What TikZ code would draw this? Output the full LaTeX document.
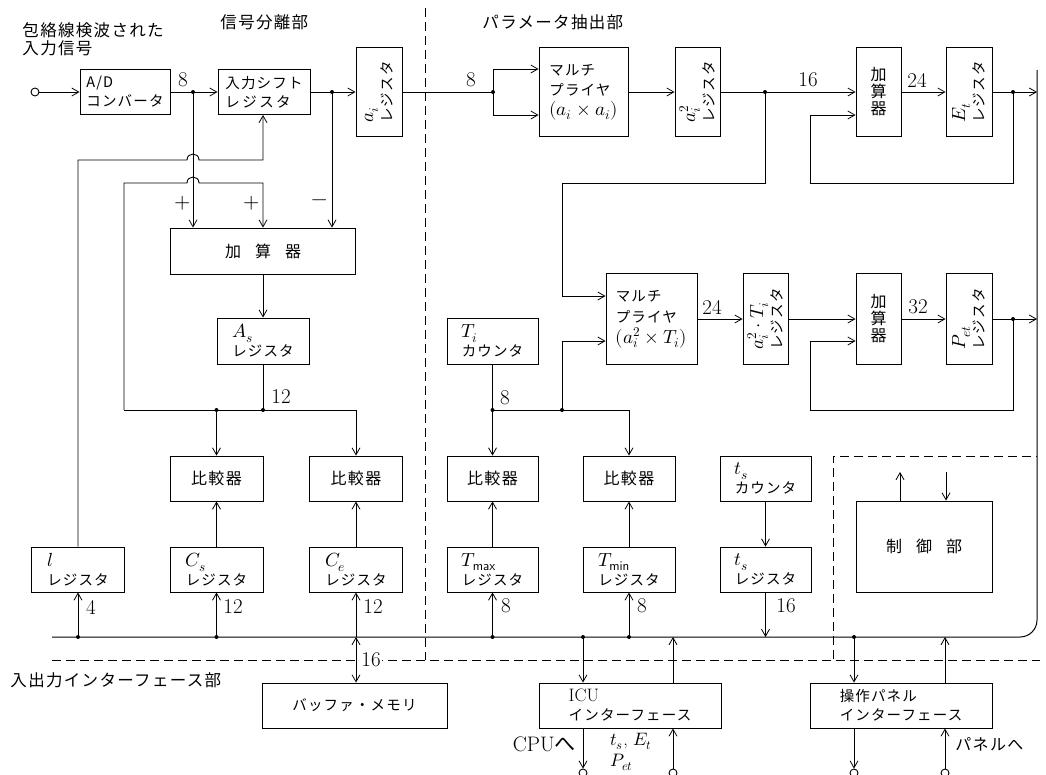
\documentclass[tikz,border=0pt]{standalone}
\usepackage{fontspec}
\usepackage{unicode-math}
\setmathfont{Latin Modern Math}
\newfontfamily\jp[LetterSpace=8]{Noto Sans CJK JP}
\usetikzlibrary{arrows.meta}
\newcommand\jpf{\jp\fontsize{14.5}{19}\selectfont}
\newcommand\jpadd{\jp\fontsize{16}{17}\selectfont}
\newcommand\jpbig{\jp\fontsize{16}{18}\selectfont}
\newcommand\jpcmp{\jp\fontsize{16}{18}\selectfont}
\newcommand\jptitle{\jp\fontsize{16.5}{18}\selectfont}
\newcommand\numf{\fontsize{21}{22}\selectfont}
\newcommand\mth[1]{{\fontsize{19}{19}\selectfont$#1$}}
\begin{document}
\begin{tikzpicture}[x=1pt,y=-1pt,line width=0.9pt,
  >={Straight Barb[length=7pt,width=8pt,line width=0.8pt]},
  box/.style={draw,line width=0.9pt,inner sep=0pt,align=left,font=\jpf},
  wh/.style 2 args={minimum width=#1pt,minimum height=#2pt},
  vtext/.style={rotate=90,align=left,inner sep=0pt,font=\jpf},
  num/.style={font=\numf,inner sep=0pt},
  jdot/.style={circle,fill,inner sep=0pt,minimum size=4pt},
  term/.style={circle,draw,fill=white,inner sep=0pt,minimum size=8pt},
  dsh/.style={dash pattern=on 9pt off 5pt,line width=0.9pt},
  title/.style={font=\jptitle,inner sep=0pt,align=left,anchor=west}]
\useasboundingbox (0,0) rectangle (1046,774);

% titles
\node[title] (tin) at (22,39) {包絡線検波された\\入力信号};
\node[title] (tsep) at (220,22) {信号分離部};
\node[title] (tpar) at (482,22) {パラメータ抽出部};
\node[title] (tio) at (10,680) {入出力インターフェース部};

% row 1
\node[term] (in) at (35,92) {};
\node[box,wh={90}{45}] (ad) at (125,92) {A/D\\コンバータ};
\node[box,wh={92}{45}] (isr) at (264,92) {入力シフト\\レ\,ジ\,ス\,タ};
\node[box,wh={46}{89}] (ai) at (379,92) {};
\node[vtext] (ait1) at (ai.center) {\mth{a_i}\\レジスタ};
\node[box,wh={89}{89},font=\jp\fontsize{14.5}{20}\selectfont] (m1) at (583.5,92) {マルチ\\プライヤ\\\mth{(a_i\times a_i)}};
\node[box,wh={45}{89}] (ai2) at (697.5,92) {};
\node[vtext] (ai2t) at (ai2.center) {\mth{a_i^2}\\レジスタ};
\node[box,wh={45}{89},align=center,font=\jpadd] (add1) at (878.5,92) {加\\算\\器};
\node[box,wh={46}{89}] (et) at (969,92) {};
\node[vtext] (ett) at (et.center) {\mth{E_t}\\レジスタ};

% adder / As
\node[box,wh={185}{46},font=\jpbig] (add0) at (263,251) {加\hspace{14pt}算\hspace{14pt}器};
\node[box,wh={92}{46}] (as) at (263,341) {\mth{A_s}\\レジスタ};

% row 2
\node[box,wh={91}{91},font=\jp\fontsize{14.5}{21}\selectfont] (m2) at (651.5,319) {マルチ\\プライヤ\\\mth{(a_i^2\times T_i)}};
\node[box,wh={45}{91}] (ait) at (765.5,319) {};
\node[vtext] (aitt) at (ait.center) {\mth{a_i^2\cdot T_i}\\レジスタ};
\node[box,wh={45}{91},align=center,font=\jpadd] (add2) at (878.5,319) {加\\算\\器};
\node[box,wh={46}{91}] (pet) at (969,319) {};
\node[vtext] (pett) at (pet.center) {\mth{P_{et}}\\レジスタ};
\node[box,wh={91}{46}] (ti) at (492.5,341) {\mth{T_i}\\カウンタ};

% comparators
\node[box,wh={93}{45},font=\jpcmp] (cmp1) at (216.5,478.5) {比較器};
\node[box,wh={93}{45},font=\jpcmp] (cmp2) at (356,478.5) {比較器};
\node[box,wh={91}{45},font=\jpcmp] (cmp3) at (492.5,478.5) {比較器};
\node[box,wh={92}{45},font=\jpcmp] (cmp4) at (629,478.5) {比較器};
\node[box,wh={91}{45}] (tsc) at (765.5,478.5) {\mth{t_s}\\カウンタ};

% registers
\node[box,wh={93}{45}] (lreg) at (78,569.5) {\mth{l}\\レジスタ};
\node[box,wh={93}{45}] (cs) at (216.5,569.5) {\mth{C_s}\\レジスタ};
\node[box,wh={93}{45}] (ce) at (356,569.5) {\mth{C_e}\\レジスタ};
\node[box,wh={91}{45}] (tmax) at (492.5,569.5) {\mth{T_{\mathsf{max}}}\\レジスタ};
\node[box,wh={92}{45}] (tmin) at (629,569.5) {\mth{T_{\mathsf{min}}}\\レジスタ};
\node[box,wh={91}{45}] (tsr) at (765.5,569.5) {\mth{t_s}\\レジスタ};
\node[box,wh={136}{91},font=\jpbig] (ctrl) at (924,546.5) {制\hspace{14pt}御\hspace{14pt}部};

% interfaces
\node[box,wh={185}{45}] (buf) at (354.5,705.5) {バッファ・メモリ};
\node[box,wh={182}{45}] (icu) at (630,705.5) {{\rmfamily\fontsize{18}{18}\selectfont ICU}\\インターフェース};
\node[box,wh={182}{45}] (pnl) at (901,705.5) {操作パネル\\インターフェース};

% junctions
\node[jdot] (d1) at (193,92) {};
\node[jdot] (d2) at (332,92) {};
\node[jdot] (d3) at (493,92) {};
\node[jdot] (d4) at (765,92) {};
\node[jdot] (d5) at (1013,92) {};
\node[jdot] (d6) at (1013,319) {};
\node[jdot] (d7) at (492.5,410) {};
\node[jdot] (d8) at (562,410) {};
\node[jdot] (d9) at (263,410) {};
\node[jdot] (d10) at (216.5,410) {};
\coordinate (b1) at (1037,92);
\coordinate (b2) at (1037,319);

% row 1 connectors
\draw[->] (in) -- (ad);
\draw[->] (ad) -- (isr);
\draw[->] (isr) -- (ai);
\draw (ai) -- (d3.center);
\draw[->] (d3.center) -- (493,69) -- (m1.west |- 0,69);
\draw[->] (d3.center) -- (493,115) -- (m1.west |- 0,115);
\draw[->] (m1) -- (ai2);
\draw[->] (ai2) -- (add1);
\draw[->] (add1) -- (et);
\draw[->] (et) -- (b1);
\draw[->] (d5.center) -- (1013,183) -- (810,183) -- (810,115) -- (add1.west |- 0,115);
\draw[->] (d4.center) -- (765,183) -- (562,183) -- (562,296) -- (m2.west |- 0,296);

% row 2 connectors
\draw[->] (m2) -- (ait);
\draw[->] (ait) -- (add2);
\draw[->] (add2) -- (pet);
\draw[->] (pet) -- (b2);
\draw[->] (d6.center) -- (1013,410) -- (810,410) -- (810,341) -- (add2.west |- 0,341);
\draw (ti) -- (d7.center);
\draw[->] (d7.center) -- (cmp3);
\draw[->] (d7.center) -- (629,410) -- (cmp4);
\draw[->] (d8.center) -- (562,341) -- (m2.west |- 0,341);

% left connectors
\draw[->] (d1.center) -- (add0.north -| d1);
\draw[->] (d2.center) -- (add0.north -| d2);
\draw[->] (lreg) -- (78,160) -- (187,160) .. controls (187,152) and (199,152) .. (199,160) -- (263,160) -- (isr.south -| 263,0);
\draw[->] (124,410) -- (124,183) -- (187,183) .. controls (187,175) and (199,175) .. (199,183) -- (263,183) -- (add0.north -| 263,0);
\draw[->] (add0) -- (as);
\draw (as) -- (d9.center);
\draw (124,410) -- (356,410);
\draw[->] (d10.center) -- (cmp1);
\draw[->] (356,410) -- (cmp2);
\draw[->] (cs) -- (cmp1);
\draw[->] (ce) -- (cmp2);
\draw[->] (tmax) -- (cmp3);
\draw[->] (tmin) -- (cmp4);
\draw[->] (tsc) -- (tsr);

% bus
\draw[line width=1pt,rounded corners=17pt] (52,637) -- (1037,637) -- (1037,70);
\node[jdot] (bl) at (78,637) {};
\node[jdot] (bcs) at (216.5,637) {};
\coordinate (bce) at (356,637);
\node[jdot] (btmax) at (492.5,637) {};
\node[jdot] (bicu) at (583,637) {};
\node[jdot] (btmin) at (629,637) {};
\coordinate (bicu2) at (673,637);
\coordinate (bts) at (765.5,637);
\node[jdot] (bpnl) at (854,637) {};
\coordinate (bpnl2) at (945,637);
\draw[->] (bl.center) -- (lreg);
\draw[->] (bcs.center) -- (cs);
\draw[->] (bce) -- (ce);
\draw[<->] (bce) -- (buf.north -| bce);
\draw[->] (btmax.center) -- (tmax);
\draw[->] (btmin.center) -- (tmin);
\draw[->] (tsr) -- (bts);
\draw[->] (bicu.center) -- (icu.north -| bicu);
\draw[->] (icu.north -| bicu2) -- (bicu2);
\draw[->] (bpnl.center) -- (pnl.north -| bpnl);
\draw[->] (pnl.north -| bpnl2) -- (bpnl2);

% control
\coordinate (c1) at (900,472);
\coordinate (c2) at (946,472);
\draw[->] (ctrl.north -| c1) -- (c1);
\draw[->] (c2) -- (ctrl.north -| c2);

% terminals bottom
\node[term] (t1) at (583,773) {};
\node[term] (t2) at (673,773) {};
\node[term] (t3) at (854,773) {};
\node[term] (t4) at (945,773) {};
\draw[->] (icu.south -| t1) -- (t1);
\draw[->] (t2) -- (icu.south -| t2);
\draw[->] (pnl.south -| t3) -- (t3);
\draw[->] (t4) -- (pnl.south -| t4);

% dashed section lines
\draw[dsh] (425,8) -- (425,660);
\draw[dsh] (52,660) -- (1040,660);
\draw[dsh] (833,659) -- (833,456) -- (1037,456);

% labels
\node[num] (n1) at (183,80) {8};
\node[num] (n2) at (471,80) {8};
\node[num] (n3) at (808,80) {16};
\node[num] (n4) at (917,80) {24};
\node[num] (n5) at (712,307) {24};
\node[num] (n6) at (918,307) {32};
\node[num] (n7) at (281,397) {12};
\node[num] (n8) at (505,398) {8};
\node[num] (n9) at (91,607) {4};
\node[num] (n10) at (233,607) {12};
\node[num] (n11) at (373,607) {12};
\node[num] (n12) at (506,606) {8};
\node[num] (n13) at (642,606) {8};
\node[num] (n14) at (786,606) {16};
\node[num,fill=white,inner sep=1pt] (n15) at (371,660) {16};
\node[num] (pl1) at (183,203) {$+$};
\node[num] (pl2) at (252,203) {$+$};
\node[num] (mi) at (320,203) {$-$};
\node[num,anchor=east] (cpu) at (576,744) {CPU{\jp へ}};
\node[num,anchor=west,align=left,font=\fontsize{18}{21}\selectfont] (tse) at (610,752) {$t_s$, $E_t$\\$P_{et}$};
\node[anchor=west,inner sep=0pt,font=\jpbig] (pnlh) at (955,744) {パネルへ};
\end{tikzpicture}
\end{document}
